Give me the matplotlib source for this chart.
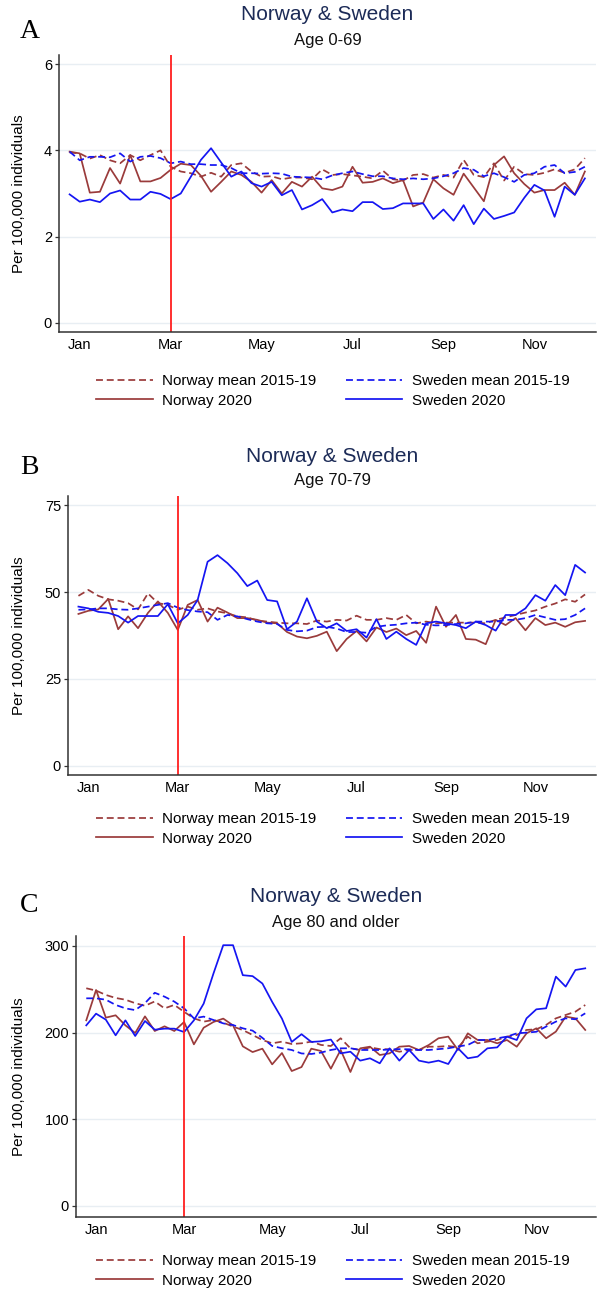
import matplotlib
matplotlib.use("Agg")
import matplotlib.pyplot as plt
import numpy as np

plt.rcParams["font.family"] = ["Liberation Sans", "DejaVu Sans"]

W, H = 613, 1297

weeks = np.arange(1, 53)
month_ticks = [2, 11, 20, 29, 38, 47]
month_labels = ["Jan", "Mar", "May", "Jul", "Sep", "Nov"]
lockdown_week = 11

# Age 0-69
nor_mean_a = [3.95, 3.93, 3.81, 3.89, 3.77, 3.70, 3.89, 3.77, 3.89, 4.00, 3.62, 3.51, 3.47,
              3.39, 3.48, 3.39, 3.66, 3.70, 3.51, 3.39, 3.40, 3.33, 3.37, 3.37, 3.33, 3.56,
              3.43, 3.45, 3.42, 3.39, 3.35, 3.53, 3.33, 3.30, 3.43, 3.45, 3.37, 3.43, 3.37,
              3.78, 3.43, 3.38, 3.70, 3.30, 3.62, 3.45, 3.43, 3.48, 3.56, 3.48, 3.56, 3.82]
swe_mean_a = [3.97, 3.77, 3.85, 3.85, 3.84, 3.93, 3.74, 3.85, 3.87, 3.82, 3.70, 3.74, 3.68,
              3.68, 3.66, 3.66, 3.59, 3.47, 3.47, 3.46, 3.47, 3.46, 3.39, 3.38, 3.37, 3.33,
              3.42, 3.47, 3.51, 3.45, 3.40, 3.40, 3.35, 3.33, 3.35, 3.33, 3.35, 3.40, 3.47,
              3.59, 3.55, 3.40, 3.47, 3.38, 3.27, 3.43, 3.47, 3.62, 3.66, 3.47, 3.50, 3.62]
nor_2020_a = [3.97, 3.93, 3.02, 3.04, 3.59, 3.23, 3.89, 3.28, 3.28, 3.36, 3.55, 3.69, 3.66,
              3.41, 3.04, 3.27, 3.51, 3.43, 3.27, 3.02, 3.31, 3.00, 3.27, 3.16, 3.39, 3.12,
              3.08, 3.16, 3.62, 3.25, 3.27, 3.35, 3.24, 3.31, 2.70, 2.79, 3.33, 3.12, 2.97,
              3.46, 3.14, 2.82, 3.66, 3.86, 3.47, 3.22, 3.02, 3.08, 3.08, 3.25, 2.97, 3.51]
swe_2020_a = [2.98, 2.81, 2.86, 2.80, 3.00, 3.07, 2.86, 2.86, 3.04, 2.99, 2.87, 3.00, 3.39,
              3.78, 4.05, 3.72, 3.39, 3.51, 3.24, 3.16, 3.27, 2.96, 3.08, 2.63, 2.73, 2.87,
              2.56, 2.63, 2.59, 2.80, 2.80, 2.64, 2.66, 2.77, 2.77, 2.77, 2.41, 2.63, 2.37,
              2.73, 2.29, 2.65, 2.41, 2.48, 2.56, 2.90, 3.20, 3.07, 2.46, 3.16, 2.97, 3.35]

# Age 70-79
nor_mean_b = [48.9, 50.6, 48.9, 47.9, 47.5, 46.8, 45.0, 49.6, 46.8, 46.3, 44.9, 45.8, 44.9,
              45.3, 44.4, 43.9, 43.0, 42.7, 41.8, 41.5, 41.2, 41.0, 41.0, 40.8, 41.8, 41.5,
              42.0, 41.8, 43.2, 42.0, 42.0, 42.5, 42.0, 43.4, 41.0, 41.5, 41.0, 41.2, 41.2,
              41.2, 41.2, 41.0, 42.0, 42.7, 43.4, 44.1, 44.7, 45.8, 46.7, 47.9, 47.2, 49.3]
swe_mean_b = [44.9, 45.0, 45.3, 45.3, 45.0, 44.9, 45.3, 45.8, 46.3, 46.8, 45.5, 44.8, 44.4,
              44.2, 42.0, 43.4, 43.0, 42.2, 41.5, 41.0, 40.8, 39.1, 38.7, 38.9, 39.9, 40.0,
              39.5, 38.5, 38.5, 38.3, 40.0, 40.4, 40.6, 41.0, 41.2, 40.6, 40.4, 40.5, 40.8,
              41.0, 41.5, 41.5, 41.5, 42.0, 42.0, 42.5, 43.4, 42.7, 42.0, 42.2, 43.4, 45.3]
nor_2020_b = [43.7, 44.6, 45.0, 48.0, 39.3, 43.0, 39.6, 44.0, 47.3, 44.0, 39.1, 46.3, 47.7,
              41.5, 45.5, 44.1, 42.5, 42.5, 42.0, 41.2, 41.0, 38.5, 37.2, 36.7, 37.4, 38.6,
              33.0, 36.5, 38.8, 35.8, 39.8, 38.5, 39.5, 37.6, 38.8, 35.4, 45.8, 40.0, 43.4,
              36.5, 36.3, 35.0, 42.0, 40.5, 42.5, 39.0, 42.5, 40.5, 41.2, 40.0, 41.3, 41.7]
swe_2020_b = [45.8, 45.3, 44.3, 44.0, 43.1, 41.2, 43.1, 43.1, 43.1, 46.5, 41.0, 43.4, 47.7,
              58.7, 60.6, 58.3, 55.4, 51.7, 53.3, 47.7, 47.3, 39.3, 41.5, 48.2, 41.5, 39.6,
              41.0, 38.8, 39.3, 36.9, 42.2, 36.5, 38.6, 36.5, 34.8, 41.0, 41.5, 41.0, 40.5,
              39.6, 41.5, 40.5, 38.9, 43.4, 43.4, 45.3, 49.1, 47.5, 52.0, 49.1, 57.8, 55.6]

# Age 80 and older
nor_mean_c = [251.2, 248.5, 243.5, 240.0, 238.0, 234.0, 231.0, 236.0, 228.0, 232.0, 224.0,
              216.5, 212.7, 214.6, 211.5, 207.0, 203.0, 197.3, 191.5, 187.7, 189.6, 186.9,
              187.7, 189.6, 185.8, 184.6, 193.5, 181.9, 180.0, 183.0, 181.0, 180.8, 178.0,
              180.0, 180.0, 183.8, 183.8, 184.6, 183.0, 195.4, 187.7, 189.6, 191.5, 195.4,
              197.3, 203.1, 203.9, 208.9, 216.5, 220.4, 224.2, 231.9]
swe_mean_c = [239.6, 239.6, 238.0, 232.0, 228.0, 226.0, 234.0, 246.0, 241.5, 235.8, 228.0,
              216.5, 218.5, 214.6, 210.7, 208.8, 205.0, 202.3, 194.0, 184.6, 182.0, 180.0,
              176.0, 175.4, 177.0, 180.0, 181.9, 182.0, 180.0, 180.0, 180.0, 180.5, 181.0,
              180.8, 180.0, 180.0, 181.0, 182.0, 184.0, 185.8, 191.5, 191.5, 193.5, 195.4,
              199.2, 200.0, 201.0, 207.0, 212.7, 216.5, 215.4, 222.3]
nor_2020_c = [214.2, 249.2, 217.3, 220.0, 208.4, 199.6, 218.8, 201.9, 207.3, 201.9, 212.3,
              186.5, 205.7, 212.3, 216.2, 208.4, 184.2, 177.6, 181.5, 163.4, 176.5, 155.7,
              160.3, 181.5, 178.8, 158.4, 180.0, 154.6, 181.9, 183.8, 174.2, 176.1, 183.8,
              184.6, 180.0, 185.7, 193.5, 195.4, 180.0, 199.2, 191.5, 191.5, 187.7, 191.5,
              183.8, 199.2, 205.0, 193.5, 201.2, 218.5, 216.5, 203.1]
swe_2020_c = [208.4, 221.9, 215.0, 196.9, 214.2, 196.1, 213.4, 203.4, 204.6, 204.6, 200.7,
              214.2, 233.5, 268.2, 300.9, 300.9, 266.3, 265.2, 256.7, 235.5, 216.2, 189.3,
              198.2, 189.3, 190.0, 192.0, 176.1, 178.0, 167.7, 170.4, 164.6, 181.9, 167.7,
              180.0, 167.7, 165.4, 167.7, 163.8, 181.9, 170.4, 172.3, 181.9, 183.0, 195.4,
              191.5, 216.5, 226.9, 228.1, 264.6, 253.1, 272.3, 274.2]

NORWAY = "#9a3b3b"
SWEDEN = "#1515f2"
TITLE = "#1c2b57"

panels = [
    dict(letter="A", age="Age 0-69", data=(nor_mean_a, swe_mean_a, nor_2020_a, swe_2020_a),
         yticks=[0, 2, 4, 6], ylim=(-0.21, 6.21), box=(59, 55, 596, 332),
         title_y=15, sub_y=41, letter_y=31, legend_y=391),
    dict(letter="B", age="Age 70-79", data=(nor_mean_b, swe_mean_b, nor_2020_b, swe_2020_b),
         yticks=[0, 25, 50, 75], ylim=(-2.6, 77.6), box=(68, 496, 596, 775),
         title_y=456, sub_y=481, letter_y=467, legend_y=829),
    dict(letter="C", age="Age 80 and older", data=(nor_mean_c, swe_mean_c, nor_2020_c, swe_2020_c),
         yticks=[0, 100, 200, 300], ylim=(-12.7, 311.5), box=(76, 936, 596, 1217),
         title_y=896, sub_y=922, letter_y=905, legend_y=1271),
]

fig = plt.figure(figsize=(W / 100, H / 100), dpi=100)

for p in panels:
    left, top, right, bottom = p["box"]
    ax = fig.add_axes([left / W, 1 - bottom / H, (right - left) / W, (bottom - top) / H])
    nor_mean, swe_mean, nor_2020, swe_2020 = p["data"]

    ax.plot(weeks, nor_mean, color=NORWAY, lw=1.25, ls=(0, (4, 2.2)), label="Norway mean 2015-19")
    ax.plot(weeks, nor_2020, color=NORWAY, lw=1.25, label="Norway 2020")
    ax.plot(weeks, swe_mean, color=SWEDEN, lw=1.25, ls=(0, (4, 2.2)), label="Sweden mean 2015-19")
    ax.plot(weeks, swe_2020, color=SWEDEN, lw=1.25, label="Sweden 2020")
    ax.axvline(lockdown_week, color="#ff1f1f", lw=1.3)

    ax.set_xlim(-0.05, 53.1)
    ax.set_ylim(*p["ylim"])
    ax.set_xticks(month_ticks)
    ax.set_xticklabels(month_labels)
    ax.set_yticks(p["yticks"])
    ax.grid(axis="y", color="#e8eef3", lw=1.0)
    ax.set_axisbelow(True)
    for s in ["top", "right"]:
        ax.spines[s].set_visible(False)
    for s in ["left", "bottom"]:
        ax.spines[s].set_color("#333333")
        ax.spines[s].set_linewidth(1.1)
    ax.tick_params(axis="both", labelsize=10.5, length=3, width=0.9, color="#333333", pad=2)
    ax.tick_params(axis="x", length=0, pad=4)

    ax.set_ylabel("Per 100,000 individuals", fontsize=11)
    ax.yaxis.set_label_coords((26 - left) / (right - left), 0.5)

    cx = (left + right) / 2 / W
    fig.text(cx, 1 - p["title_y"] / H, "Norway & Sweden", ha="center", va="center",
             fontsize=15, color=TITLE)
    fig.text(cx, 1 - p["sub_y"] / H, p["age"], ha="center", va="center", fontsize=12,
             color="#111111")
    fig.text(20 / W, 1 - p["letter_y"] / H, p["letter"], ha="left", va="center",
             fontsize=20, family=["Liberation Serif", "DejaVu Serif"])

    ax.legend(loc="center", bbox_to_anchor=(333 / W, 1 - p["legend_y"] / H),
              bbox_transform=fig.transFigure, ncol=2, frameon=False, fontsize=11,
              handlelength=3.7, handletextpad=0.65, columnspacing=1.9, labelspacing=0.35)

fig.savefig("out.png", dpi=100)
